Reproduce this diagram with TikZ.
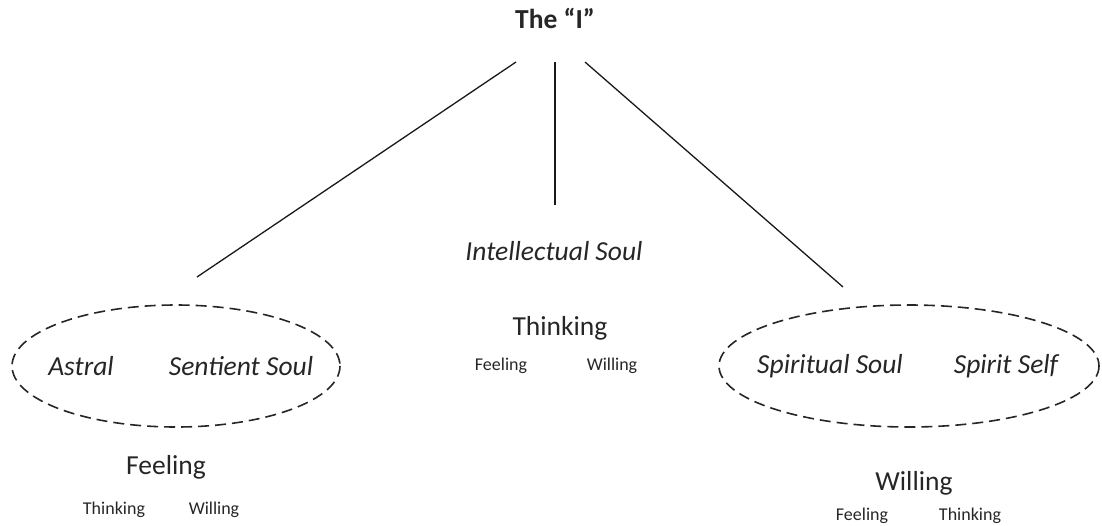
\documentclass[tikz,border=0pt]{standalone}
\usepackage{fontspec}
\setmainfont{Carlito}
\begin{document}
\begin{tikzpicture}[x=1pt,y=-1pt,
  txt/.style={inner sep=0pt,text=black!85,font=\fontsize{27.5}{31}\selectfont},
  soul/.style={txt,font=\fontsize{27.5}{31}\selectfont\itshape},
  small/.style={inner sep=0pt,text=black!85,font=\fontsize{18}{21}\selectfont},
  link/.style={draw=black!90,line width=1.3pt},
  group/.style={draw=black!85,line width=1.6pt,dash pattern=on 11pt off 6pt}]
\useasboundingbox (0,0) rectangle (1102,525);

% the "I" at the top
\node[txt,font=\fontsize{27.5}{31}\selectfont\bfseries] (ego) at (555,18) {The “I”};
\coordinate (egoL) at (516,62);
\coordinate (egoM) at (555,62);
\coordinate (egoR) at (585,62);

% left group: astral and sentient soul
\draw[group] (176,366) ellipse [x radius=164, y radius=61];
\node[soul] (astral) at (81,366) {Astral};
\node[soul] (sentient) at (241,366) {Sentient Soul};
\coordinate (leftTop) at (197,277);
\node[txt] (feel) at (166,467) {Feeling};
\node[small] (feelT) at (114,510) {Thinking};
\node[small] (feelW) at (214,510) {Willing};

% middle: intellectual soul
\node[soul] (intel) at (554,251) {Intellectual Soul};
\coordinate (midTop) at (555,205);
\node[txt] (think) at (560,328) {Thinking};
\node[small] (thinkF) at (501,366) {Feeling};
\node[small] (thinkW) at (612,366) {Willing};

% right group: spiritual soul and spirit self
\draw[group] (909,366) ellipse [x radius=190, y radius=61];
\node[soul] (spiritual) at (830,366) {Spiritual Soul};
\node[soul] (spiritself) at (1006,366) {Spirit Self};
\coordinate (rightTop) at (843,287);
\node[txt] (will) at (914,483) {Willing};
\node[small] (willF) at (862,516) {Feeling};
\node[small] (willT) at (970,516) {Thinking};

% connectors from the "I"
\draw[link] (egoL) -- (leftTop);
\draw[link] (egoM) -- (midTop);
\draw[link] (egoR) -- (rightTop);
\end{tikzpicture}
\end{document}
